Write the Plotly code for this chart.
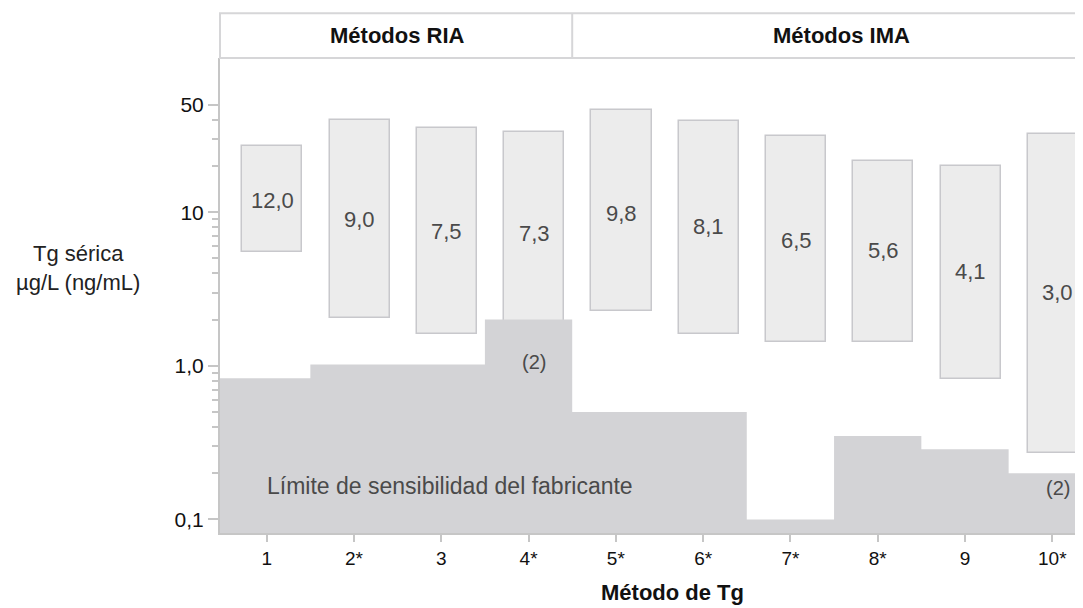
import math
import plotly.graph_objects as go

# ---------------- data ----------------
methods = [1, 2, 3, 4, 5, 6, 7, 8, 9, 10]
method_labels = ["1", "2*", "3", "4*", "5*", "6*", "7*", "8*", "9", "10*"]
range_low = [5.5, 2.06, 1.62, 1.62, 2.26, 1.62, 1.43, 1.43, 0.82, 0.271]
range_high = [27.1, 39.8, 35.1, 33.1, 46.2, 39.4, 31.3, 21.7, 20.0, 32.3]
ratio_values = [12.0, 9.0, 7.5, 7.3, 9.8, 8.1, 6.5, 5.6, 4.1, 3.0]
ratio_labels = ["12,0", "9,0", "7,5", "7,3", "9,8", "8,1", "6,5", "5,6", "4,1", "3,0"]
sens_limit = [0.83, 1.02, 1.02, 2.0, 0.5, 0.5, 0.1, 0.35, 0.286, 0.2]
note_methods = [4, 10]
note_text = "(2)"
y_tick_vals = [0.1, 1, 10, 50]
y_tick_text = ["0,1", "1,0", "10", "50"]
y_minor_vals = [0.2, 0.3, 0.4, 0.5, 0.6, 0.7, 0.8, 0.9,
                2, 3, 4, 5, 6, 7, 8, 9, 20, 30, 40]
groups = ["Métodos RIA", "Métodos IMA"]

# ---------------- style ----------------
FONT = "Liberation Sans, Arial, sans-serif"
BOX_FILL = "#ececec"
BOX_LINE = "#c8c8cc"
AREA_FILL = "#d3d3d6"
AXIS_COL = "#c6c6c6"
HEAD_COL = "#d6d6d8"
BOX_OFFSET = 0.065
BOX_WIDTH = 0.69

W, H = 1075, 600
ML, MT = 212, 50
PW = W - ML
PH = 475
MB = H - MT - PH

fig = go.Figure()

# Manufacturer sensitivity limit (step area)
xs, ys = [], []
for i, (m, lim) in enumerate(zip(methods, sens_limit)):
    left = m - 0.5 if i > 0 else 0.2
    right = m + 0.5 if i < len(methods) - 1 else 11.0
    xs += [left, right]
    ys += [lim, lim]
xs += [11.0, 0.2, 0.2]
ys += [0.01, 0.01, sens_limit[0]]
fig.add_trace(go.Scatter(x=xs, y=ys, mode="lines", fill="toself",
                         fillcolor=AREA_FILL, line=dict(width=0),
                         hoverinfo="skip", showlegend=False))

# Range boxes
fig.add_trace(go.Bar(
    x=[m + BOX_OFFSET for m in methods],
    y=[h - l for h, l in zip(range_high, range_low)],
    base=range_low,
    width=BOX_WIDTH,
    marker=dict(color=BOX_FILL, line=dict(color=BOX_LINE, width=1.5)),
    showlegend=False, hoverinfo="skip"))

# Ratio labels
for m, v, t in zip(methods, ratio_values, ratio_labels):
    fig.add_annotation(x=m + BOX_OFFSET, y=math.log10(v), text=t,
                       showarrow=False, xanchor="center", yanchor="middle",
                       font=dict(family=FONT, size=22, color="#4a4a4a"))

# Notes "(2)"
note_shift = {4: -28, 10: -15}
for m in note_methods:
    i = methods.index(m)
    anchor = min(range_low[i], sens_limit[i])
    fig.add_annotation(x=m + BOX_OFFSET, y=math.log10(anchor), text=note_text,
                       showarrow=False, yshift=note_shift[m],
                       xanchor="center", yanchor="middle",
                       font=dict(family=FONT, size=20, color="#4a4a4a"))

# Sensitivity area label
fig.add_annotation(x=0.98, y=math.log10(0.166), text="Límite de sensibilidad del fabricante",
                   showarrow=False, xanchor="left", yanchor="middle",
                   font=dict(family=FONT, size=23, color="#4a4a4a"))

# Header band
head_top = 1 + (MT - 5.3) / PH
fig.add_shape(type="rect", xref="paper", yref="paper", x0=0, x1=1.1, y0=1, y1=head_top,
              line=dict(color=HEAD_COL, width=2), fillcolor="white", layer="above")
fig.add_shape(type="line", xref="x", yref="paper", x0=4.5, x1=4.5, y0=1, y1=head_top,
              line=dict(color=HEAD_COL, width=2))
for gx, g in zip([2.5, 7.58], groups):
    fig.add_annotation(x=gx, xref="x", y=(1 + head_top) / 2, yref="paper",
                       text="<b>" + g + "</b>", showarrow=False,
                       xanchor="center", yanchor="middle",
                       font=dict(family=FONT, size=22, color="#111"))

# Axis titles
fig.add_annotation(x=(70 - ML) / PW, xref="paper", y=(MT + PH - 260) / PH, yref="paper",
                   text="Tg sérica<br>µg/L (ng/mL)", showarrow=False,
                   xanchor="center", yanchor="middle",
                   font=dict(family=FONT, size=22, color="#222"))
fig.add_annotation(x=(664 - ML) / PW, y=(MT + PH - 584) / PH, xref="paper", yref="paper",
                   text="<b>Método de Tg</b>", showarrow=False,
                   xanchor="center", yanchor="middle",
                   font=dict(family=FONT, size=22, color="#111"))

fig.update_layout(
    width=W, height=H,
    margin=dict(l=ML, r=0, t=MT, b=MB, autoexpand=False),
    paper_bgcolor="white", plot_bgcolor="white",
    font=dict(family=FONT, size=20, color="#111"),
    bargap=0,
    xaxis=dict(range=[0.465, 10.352], tickvals=methods, ticktext=method_labels,
               ticks="outside", ticklen=7, tickcolor=AXIS_COL, tickwidth=1.5,
               showline=True, linecolor=AXIS_COL, linewidth=2,
               showgrid=False, zeroline=False,
               tickfont=dict(family=FONT, size=19, color="#111")),
    yaxis=dict(type="log", range=[-1.088, 2.0036],
               tickvals=y_tick_vals, ticktext=y_tick_text,
               ticks="outside", ticklen=10, tickcolor=AXIS_COL, tickwidth=1.5,
               minor=dict(tickvals=y_minor_vals, ticks="outside", ticklen=6,
                          tickcolor=AXIS_COL, tickwidth=1.5, showgrid=False),
               showline=True, linecolor=AXIS_COL, linewidth=2,
               showgrid=False, zeroline=False,
               tickfont=dict(family=FONT, size=21, color="#111")),
)

fig.write_html("out.html")
